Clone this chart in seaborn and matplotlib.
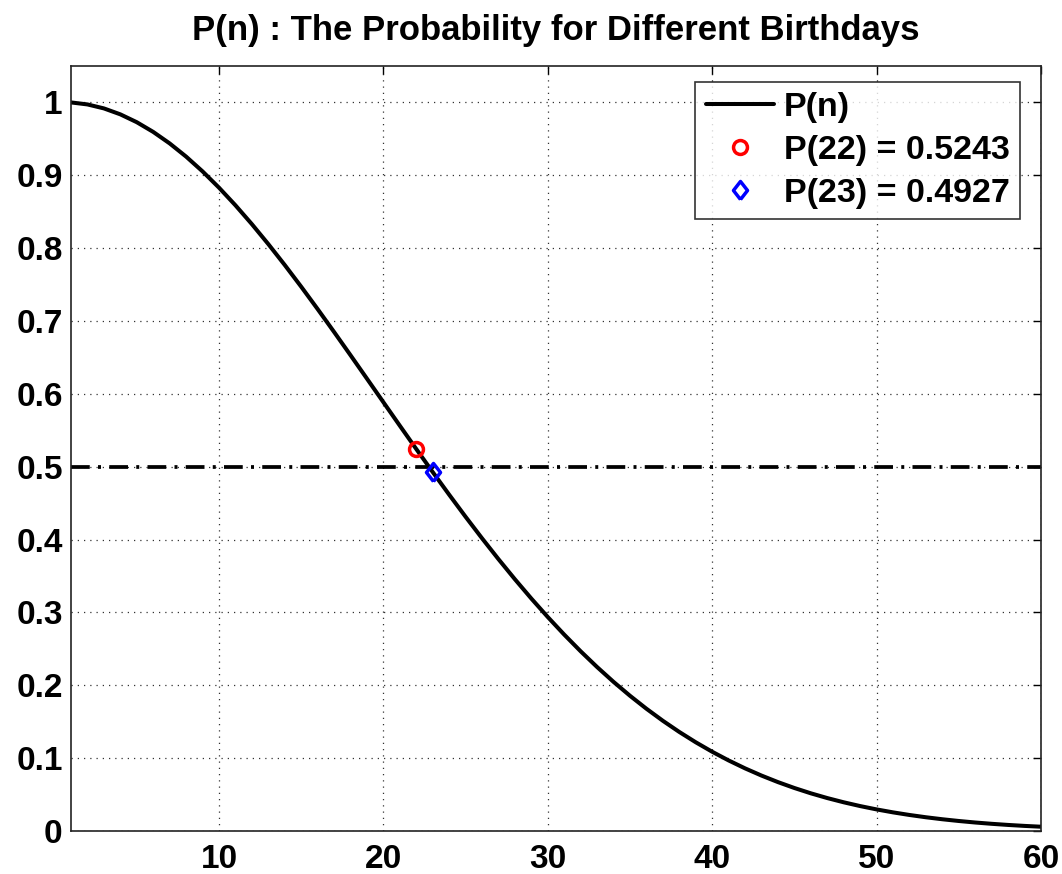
import matplotlib
matplotlib.use('Agg')
import matplotlib.pyplot as plt
import numpy as np
import pandas as pd
import seaborn as sns

# group size n and probability that all birthdays differ
n_people = list(range(1, 61))
p_distinct = [
    1.00000, 0.99726, 0.99180, 0.98364, 0.97286, 0.95954, 0.94376, 0.92566, 0.90538, 0.88305,
    0.85886, 0.83298, 0.80559, 0.77690, 0.74710, 0.71640, 0.68499, 0.65309, 0.62088, 0.58856,
    0.55631, 0.52430, 0.49270, 0.46166, 0.43130, 0.40176, 0.37314, 0.34554, 0.31903, 0.29368,
    0.26955, 0.24665, 0.22503, 0.20468, 0.18562, 0.16782, 0.15127, 0.13593, 0.12178, 0.10877,
    0.09685, 0.08597, 0.07608, 0.06711, 0.05902, 0.05173, 0.04521, 0.03940, 0.03422, 0.02963,
    0.02557, 0.02200, 0.01886, 0.01612, 0.01374, 0.01166, 0.00987, 0.00832, 0.00699, 0.00588,
]

# highlighted points
hi_n = [22, 23]
hi_p = [0.5243, 0.4927]
hi_labels = ['P(22) = 0.5243', 'P(23) = 0.4927']

threshold = 0.5

x_ticks = [10, 20, 30, 40, 50, 60]
y_ticks = [0, 0.1, 0.2, 0.3, 0.4, 0.5, 0.6, 0.7, 0.8, 0.9, 1]
y_tick_labels = ['0', '0.1', '0.2', '0.3', '0.4', '0.5', '0.6', '0.7', '0.8', '0.9', '1']

# MATLAB-like diamond, a bit wider than matplotlib's thin 'd'
DIAMOND = [(0, -1), (0.78, 0), (0, 1), (-0.78, 0), (0, -1)]


def main():
    sns.set_theme(style='white')
    plt.rcParams['font.family'] = ['Liberation Sans', 'DejaVu Sans']
    plt.rcParams['font.weight'] = 'bold'
    plt.rcParams['text.color'] = 'black'

    df = pd.DataFrame({'n': n_people, 'P': p_distinct})

    fig = plt.figure(figsize=(10.62, 8.74), dpi=100)
    ax = fig.add_axes([71 / 1062, 1 - 831 / 874, 970 / 1062, 765 / 874])

    sns.lineplot(data=df, x='n', y='P', ax=ax, color='black', linewidth=2.9, label='P(n)')
    ax.plot([hi_n[0]], [hi_p[0]], linestyle='none', marker='o', markersize=10,
            markerfacecolor='none', markeredgecolor='red', markeredgewidth=2.5, label=hi_labels[0])
    ax.plot([hi_n[1]], [hi_p[1]], linestyle='none', marker=DIAMOND, markersize=13,
            markerfacecolor='none', markeredgecolor='blue', markeredgewidth=2.5, label=hi_labels[1])
    ax.axhline(threshold, color='black', linestyle=(0, (5, 2.2, 0.8, 2.2)), linewidth=2.7, zorder=1)

    ax.set_xlim(1, 60)
    ax.set_ylim(0, 1.05)
    ax.set_xticks(x_ticks)
    ax.set_yticks(y_ticks)
    ax.set_yticklabels(y_tick_labels)
    ax.set_xlabel('')
    ax.set_ylabel('')
    ax.tick_params(axis='both', direction='in', length=6, width=1, labelsize=24,
                   top=True, right=True, colors='black')
    ax.tick_params(axis='y', pad=6)
    ax.tick_params(axis='x', pad=9)
    for lbl in ax.get_xticklabels() + ax.get_yticklabels():
        lbl.set_fontweight('bold')
    ax.grid(True, linestyle=(0, (1, 4)), linewidth=0.9, color='#333333')
    for s in ax.spines.values():
        s.set_visible(True)
        s.set_color('#222222')
        s.set_linewidth(1.2)

    ax.set_title('P(n) : The Probability for Different Birthdays', fontsize=25,
                 fontweight='bold', color='black', pad=19)

    leg = ax.legend(loc='upper right', bbox_to_anchor=(1020 / 1062, 1 - 82 / 874),
                    bbox_transform=fig.transFigure, borderaxespad=0, fontsize=24.5,
                    frameon=True, fancybox=False, handlelength=2.0, handletextpad=0.3,
                    labelspacing=0.35, borderpad=0.3)
    leg.get_frame().set_edgecolor('black')
    leg.get_frame().set_linewidth(1.2)
    for t in leg.get_texts():
        t.set_fontweight('bold')
        t.set_color('black')

    fig.savefig('out.png', dpi=100)
    plt.close(fig)


if __name__ == '__main__':
    main()
